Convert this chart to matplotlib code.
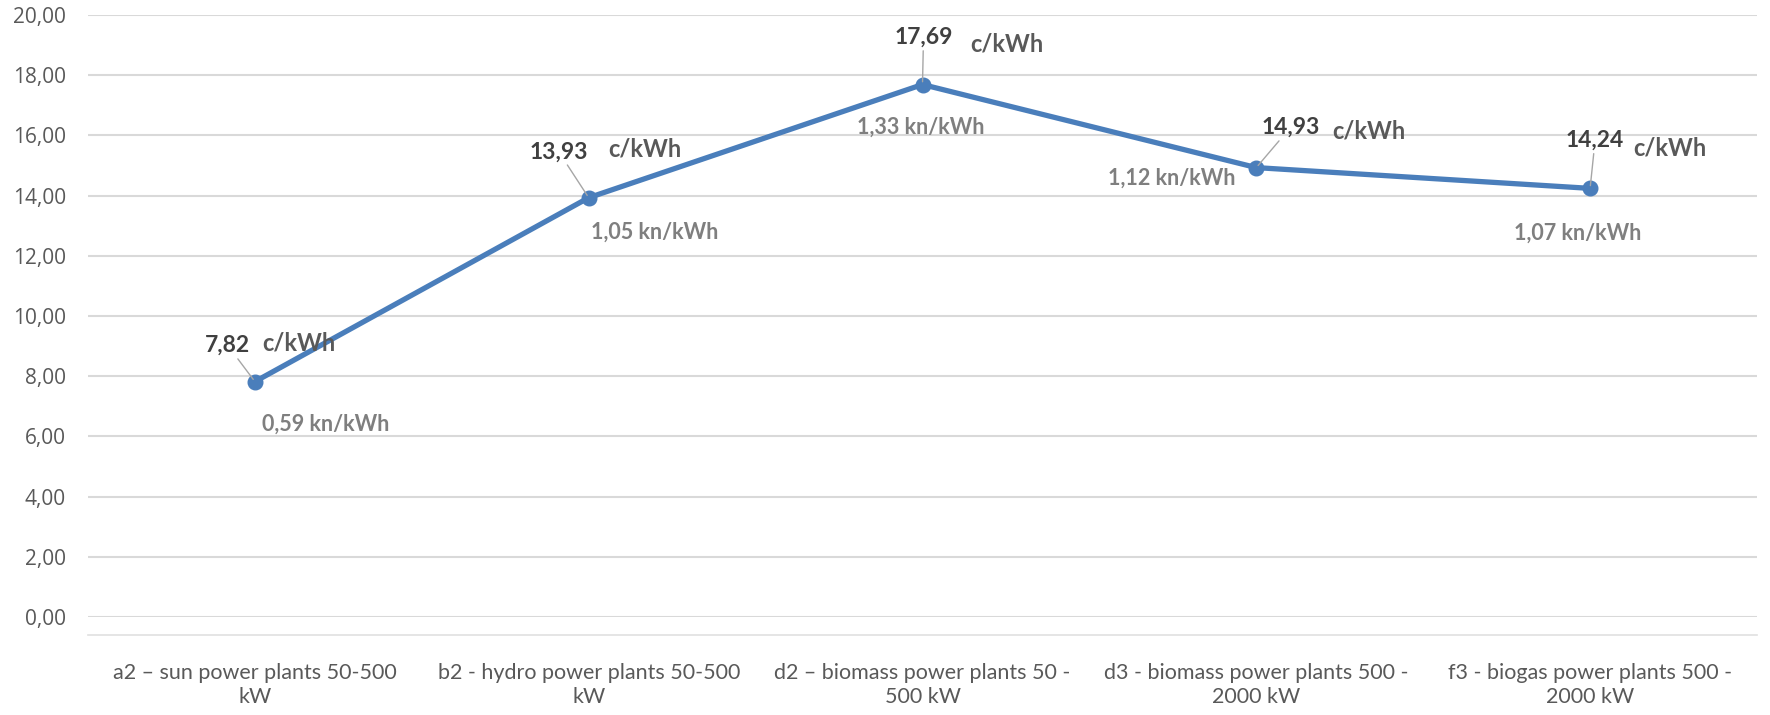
import matplotlib.pyplot as plt

categories = ['a2 – sun power plants 50-500\nkW',
              'b2 - hydro power plants 50-500\nkW',
              'd2 – biomass power plants 50 -\n500 kW',
              'd3 - biomass power plants 500 -\n2000 kW',
              'f3 - biogas power plants 500 -\n2000 kW']
cents = [7.82, 13.93, 17.69, 14.93, 14.24]
kuna = [0.59, 1.05, 1.33, 1.12, 1.07]
yticks = [0, 2, 4, 6, 8, 10, 12, 14, 16, 18, 20]

# label offsets in pixels relative to each point (value, c/kWh, kn/kWh)
val_off = [(-27, 36), (-30, 46), (1, 47), (34, 40), (5, 48)]
unit_off = [(7, 39), (20, 49), (48, 41), (76, 37), (43, 40)]
kn_off = [(7, -43), (2, -34), (-2, -43), (-21, -11), (-12, -45)]
kn_ha = ['left', 'left', 'center', 'right', 'center']

blue = '#4A7EBB'
lblfont = ['Lato', 'DejaVu Sans']

fig = plt.figure(figsize=(17.7, 7.15), dpi=100)
ax = fig.add_axes([88 / 1770, 1 - 617 / 715, (1757 - 88) / 1770, 602 / 715])

# spine offset first, it resets the ticks
for s in ['top', 'right', 'left']:
    ax.spines[s].set_visible(False)
ax.spines['bottom'].set_position(('outward', 13))
ax.spines['bottom'].set_color('#E0E0E0')
ax.spines['bottom'].set_linewidth(1.2)

x = list(range(len(categories)))
ax.plot(x, cents, color=blue, lw=3.8, marker='o', ms=10.5, zorder=3, solid_capstyle='round')

for i in x:
    ax.annotate(f'{cents[i]:.2f}'.replace('.', ','), (i, cents[i]), xytext=val_off[i],
                textcoords='offset pixels', ha='center', va='center', fontsize=16.5,
                fontweight='bold', color='#404040', family=lblfont,
                arrowprops=dict(arrowstyle='-', color='#A6A6A6', lw=1, shrinkA=0, shrinkB=2))
    ax.annotate('c/kWh', (i, cents[i]), xytext=unit_off[i], textcoords='offset pixels',
                ha='left', va='center', fontsize=17, fontweight='bold', color='#595959',
                family=lblfont)
    ax.annotate(f'{kuna[i]:.2f}'.replace('.', ',') + ' kn/kWh', (i, cents[i]), xytext=kn_off[i],
                textcoords='offset pixels', ha=kn_ha[i], va='center', fontsize=15.5,
                fontweight='bold', color='#7F7F7F', family=lblfont)

ax.set_xlim(-0.5, len(categories) - 0.5)
ax.set_ylim(0, 20)
ax.set_yticks(yticks)
ax.set_yticklabels([f'{v:.2f}'.replace('.', ',') for v in yticks], fontsize=15,
                   color='#595959', family=['Open Sans', 'DejaVu Sans'])
ax.set_xticks(x)
ax.set_xticklabels(categories, fontsize=15.5, color='#595959', linespacing=1.25,
                   family=lblfont)
ax.tick_params(axis='both', length=0)
ax.tick_params(axis='y', pad=16)
ax.tick_params(axis='x', pad=20)

ax.grid(axis='y', color='#D9D9D9', lw=1.5)
ax.set_axisbelow(True)

fig.savefig('out.png', dpi=100)
